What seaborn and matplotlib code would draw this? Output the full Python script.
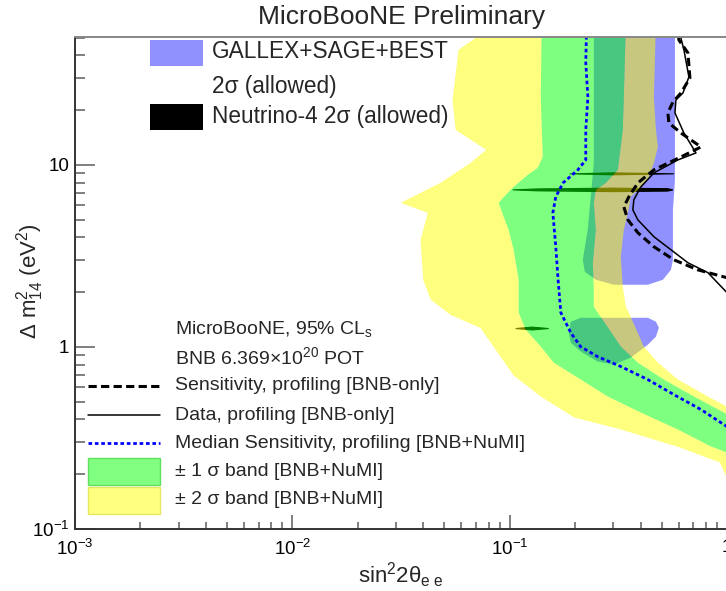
import numpy as np
import pandas as pd
import matplotlib
matplotlib.use("Agg")
import matplotlib.pyplot as plt
import seaborn as sns
from matplotlib.patches import Rectangle
from matplotlib.lines import Line2D
from matplotlib.ticker import LogLocator, FixedLocator, FixedFormatter, NullFormatter

# ---------------- data (sin^2 2theta_ee , Delta m^2_14 [eV^2]) ----------------
# median sensitivity, profiling [BNB+NuMI]
median_dm2 = [60.0, 36.3, 23.6, 15.6, 10.65, 9.39, 7.96, 6.68, 5.45, 3.55, 2.34, 1.542,
              1.198, 1.004, 0.885, 0.780, 0.662, 0.547, 0.453, 0.365, 0.2985]
median_sin2 = [0.226, 0.224, 0.229, 0.224, 0.224, 0.206, 0.176, 0.163, 0.158, 0.163, 0.167, 0.172,
               0.191, 0.212, 0.254, 0.325, 0.432, 0.570, 0.759, 1.0, 1.435]

# +-1 sigma band edges
g_left_dm2 = [60.0, 23.6, 11.06, 9.63, 8.81, 7.57, 6.84, 6.19, 5.19, 4.40, 3.42, 2.34, 1.542,
              1.245, 1.004, 0.820, 0.662, 0.534, 0.436, 0.352, 0.2838, 0.2632, 0.2124]
g_left_sin2 = [0.1405, 0.139, 0.142, 0.1346, 0.121, 0.1043, 0.0959, 0.089, 0.0938, 0.0989, 0.1043,
               0.110, 0.110, 0.1185, 0.139, 0.1595, 0.2124, 0.2829, 0.4015, 0.5946, 0.8438, 1.0, 1.595]
g_right_dm2 = [60.0, 23.6, 15.56, 9.39, 7.96, 7.29, 6.19, 4.40, 2.90, 2.06, 1.664, 1.542, 1.004,
               0.820, 0.662, 0.534, 0.436, 0.352]
g_right_sin2 = [0.3424, 0.3352, 0.3316, 0.3146, 0.2769, 0.249, 0.2438, 0.249, 0.2413, 0.2438, 0.2438,
                0.2544, 0.3247, 0.3889, 0.5125, 0.7046, 0.9688, 1.435]

# +-2 sigma band edges
y_left_dm2 = [60.0, 50.4, 42.8, 22.7, 15.56, 12.1, 10.25, 7.96, 6.19, 5.45, 3.88, 2.34, 1.82,
              1.50, 1.27, 0.70, 0.534, 0.41, 0.352, 0.282, 0.232, 0.190, 0.150]
y_left_sin2 = [0.075, 0.0705, 0.0582, 0.0546, 0.0564, 0.0780, 0.0661, 0.0480, 0.0315, 0.0420,
               0.0389, 0.0400, 0.0433, 0.0535, 0.0735, 0.104, 0.139, 0.198, 0.325, 0.598, 0.927,
               1.0, 1.6]
y_right_dm2 = [60.0, 23.6, 15.56, 12.55, 10.25, 8.27, 6.68, 5.45, 4.40, 3.13, 2.14, 1.664, 1.542,
               1.004, 0.820, 0.662, 0.534, 0.470, 0.399]
y_right_sin2 = [0.4709, 0.461, 0.4709, 0.481, 0.461, 0.4324, 0.361, 0.3499, 0.3352, 0.3247, 0.3316,
                0.3424, 0.3536, 0.4145, 0.481, 0.5946, 0.8173, 1.0, 1.435]

# observed (data) and BNB-only sensitivity contours
data_dm2 = [60.0, 49.7, 42.8, 30.4, 24.83, 22.73, 19.29, 14.97, 11.63, 10.65, 9.04, 7.57, 6.43,
            5.66, 4.99, 4.03, 3.42, 2.90, 2.557, 1.986, 1.602]
data_sin2 = [0.605, 0.6138, 0.6336, 0.6679, 0.6269, 0.5821, 0.576, 0.6336, 0.7197, 0.5946, 0.461,
             0.4015, 0.3727, 0.3688, 0.3889, 0.461, 0.5519, 0.661, 0.8173, 1.0, 1.435]
sens_dm2 = [60.0, 48.5, 41.2, 30.0, 24.83, 22.16, 19.29, 17.0, 14.97, 12.55, 11.06, 9.39, 7.96,
            6.68, 5.88, 4.99, 4.24, 3.55, 3.01, 2.65, 2.40, 2.06]
sens_sin2 = [0.59, 0.6008, 0.661, 0.675, 0.6138, 0.5639, 0.5346, 0.5403, 0.6138, 0.7592, 0.6138,
             0.461, 0.3889, 0.3536, 0.3352, 0.3499, 0.3889, 0.461, 0.5699, 0.7351, 1.0, 1.435]

# GALLEX+SAGE+BEST 2 sigma allowed (two islands)
gal1_sin2 = [0.2438, 0.2438, 0.2362, 0.2287, 0.217, 0.2216, 0.249, 0.3015, 0.4324, 0.5071,
             0.5519, 0.5639, 0.5639, 0.576, 0.576]
gal1_dm2 = [60.0, 10.25, 6.68, 4.40, 3.01, 2.59, 2.34, 2.196, 2.196, 2.34, 2.65, 3.01, 5.66,
            8.27, 60.0]
gal2_sin2 = [0.1871, 0.191, 0.2124, 0.4324, 0.4709, 0.4861, 0.4709, 0.4324, 0.361, 0.3015,
             0.2544, 0.2124, 0.191]
gal2_dm2 = [1.198, 1.376, 1.446, 1.446, 1.376, 1.276, 1.139, 1.029, 0.874, 0.80, 0.831, 0.943,
            1.056]

# Neutrino-4 2 sigma allowed (thin islands)
n4a_sin2 = [0.189, 0.30, 0.570, 0.30]
n4a_dm2 = [8.93, 9.04, 8.93, 8.82]
n4b_sin2 = [0.1032, 0.135, 0.30, 0.534, 0.564, 0.534, 0.30, 0.135]
n4b_dm2 = [7.29, 7.38, 7.45, 7.40, 7.29, 7.18, 7.13, 7.20]
n4c_sin2 = [0.1066, 0.127, 0.1513, 0.127]
n4c_dm2 = [1.262, 1.285, 1.262, 1.240]

# ---------------- styling ----------------
sns.set_theme(style="ticks")
plt.rcParams['font.family'] = ['Liberation Sans', 'DejaVu Sans']
plt.rcParams['mathtext.fontset'] = 'custom'
plt.rcParams['mathtext.rm'] = 'Liberation Sans'
plt.rcParams['mathtext.it'] = 'Liberation Sans:italic'
plt.rcParams['mathtext.bf'] = 'Liberation Sans:bold'

W, H = 726, 591
fig = plt.figure(figsize=(W / 100, H / 100), dpi=100)
fig.patch.set_facecolor('white')
ax = fig.add_axes([75 / W, 1 - 529 / H, (727 - 75) / W, (529 - 37) / H])
ax.set_facecolor('white')
ax.set_xscale('log')
ax.set_yscale('log')
ax.set_xlim(1e-3, 1.0)
ax.set_ylim(0.1, 50.4)

BLUE_FILL = '#9090ff'
# GALLEX regions
ax.fill(gal1_sin2, gal1_dm2, color=BLUE_FILL, lw=0, zorder=1)
ax.fill(gal2_sin2, gal2_dm2, color=BLUE_FILL, lw=0, zorder=1)
# Neutrino-4 islands
for xs, ys in [(n4a_sin2, n4a_dm2), (n4b_sin2, n4b_dm2), (n4c_sin2, n4c_dm2)]:
    ax.fill(xs, ys, color='black', lw=0.8, ec='black', zorder=2)

# +-2 sigma band (ring outside +-1 sigma)
ax.fill(np.r_[y_left_sin2, g_left_sin2[::-1]], np.r_[y_left_dm2, g_left_dm2[::-1]],
        color=(1, 1, 0), alpha=0.5, lw=0, zorder=3)
ax.fill(np.r_[g_right_sin2, y_right_sin2[::-1]], np.r_[g_right_dm2, y_right_dm2[::-1]],
        color=(1, 1, 0), alpha=0.5, lw=0, zorder=3)
# +-1 sigma band
ax.fill(np.r_[g_left_sin2, g_right_sin2[::-1]], np.r_[g_left_dm2, g_right_dm2[::-1]],
        color=(0, 1, 0), alpha=0.5, lw=0, zorder=3)

SENS_DASH = [2.7, 1.4]
MED_DASH = [1.3, 1.0]
med = pd.DataFrame({'sin2': median_sin2, 'dm2': median_dm2})
dat = pd.DataFrame({'sin2': data_sin2, 'dm2': data_dm2})
sen = pd.DataFrame({'sin2': sens_sin2, 'dm2': sens_dm2})
sns.lineplot(data=sen, x='sin2', y='dm2', sort=False, estimator=None, ax=ax, color='black',
             lw=2.2, zorder=5).lines[-1].set_dashes(SENS_DASH)
sns.lineplot(data=dat, x='sin2', y='dm2', sort=False, estimator=None, ax=ax, color='black',
             lw=1.1, zorder=5)
sns.lineplot(data=med, x='sin2', y='dm2', sort=False, estimator=None, ax=ax, color='#0000ff',
             lw=2.0, zorder=6).lines[-1].set_dashes(MED_DASH)

ax.set_xlabel('')
ax.set_ylabel('')

# ticks
ax.xaxis.set_major_locator(FixedLocator([1e-3, 1e-2, 1e-1, 1.0]))
ax.xaxis.set_major_formatter(FixedFormatter(['$10^{-3}$', '$10^{-2}$', '$10^{-1}$', '1']))
ax.xaxis.set_minor_locator(LogLocator(base=10, subs=np.arange(2, 10), numticks=20))
ax.xaxis.set_minor_formatter(NullFormatter())
ax.yaxis.set_major_locator(FixedLocator([0.1, 1.0, 10.0]))
ax.yaxis.set_major_formatter(FixedFormatter(['$10^{-1}$', '1', '10']))
ax.yaxis.set_minor_locator(LogLocator(base=10, subs=np.arange(2, 10), numticks=20))
ax.yaxis.set_minor_formatter(NullFormatter())
ax.tick_params(axis='both', which='both', direction='in', top=False, right=False,
               color='#6a6a6a', width=1.2, labelsize=13.5, labelcolor='black')
ax.tick_params(axis='y', which='major', length=14.4, pad=4)
ax.tick_params(axis='y', which='minor', length=7.2)
ax.tick_params(axis='x', which='major', length=10, pad=7)
ax.tick_params(axis='x', which='minor', length=4.7)
for s in ax.spines.values():
    s.set_color('#333333')
    s.set_linewidth(1.4)
    s.set_zorder(10)
ax.spines['top'].set_color('#888888')


def P(x, y):
    return (x / W, 1 - y / H)


# title and axis titles
fig.text(*P(402, 17), 'MicroBooNE Preliminary', ha='center', va='center', fontsize=19)
fig.text(*P(401, 575), r'sin$^{2}$2θ$_{\mathrm{e\ e}}$', ha='center', va='center', fontsize=16)
fig.text(*P(30, 281), r'$\Delta$ m$^{2}_{14}$ (eV$^{2}$)', ha='center', va='center',
         fontsize=16, rotation=90)

# legend 1 (top)
fig.patches.append(Rectangle(P(150, 66), 53 / W, 26 / H, transform=fig.transFigure,
                             facecolor=BLUE_FILL, edgecolor='none'))
fig.patches.append(Rectangle(P(150, 130), 53 / W, 26 / H, transform=fig.transFigure,
                             facecolor='black', edgecolor='none'))
fig.text(*P(212, 52), 'GALLEX+SAGE+BEST', ha='left', va='center', fontsize=16.3)
fig.text(*P(212, 87), '2σ (allowed)', ha='left', va='center', fontsize=16.3)
fig.text(*P(212, 117), 'Neutrino-4 2σ (allowed)', ha='left', va='center', fontsize=16.3)

# legend 2 (lower left)
fs2 = 14
fig.text(*P(175, 329), r'MicroBooNE, 95% CL$_{\mathrm{s}}$', ha='left', va='center', fontsize=fs2)
fig.text(*P(175, 357), r'BNB 6.369$\times$10$^{20}$ POT', ha='left', va='center', fontsize=fs2)
fig.lines.append(Line2D([88 / W, 160 / W], [1 - 386 / H] * 2, transform=fig.transFigure,
                        color='black', lw=2.2, dashes=SENS_DASH))
fig.lines.append(Line2D([88 / W, 160 / W], [1 - 415 / H] * 2, transform=fig.transFigure,
                        color='black', lw=1.1))
fig.lines.append(Line2D([88 / W, 160 / W], [1 - 443 / H] * 2, transform=fig.transFigure,
                        color='#0000ff', lw=2.0, dashes=MED_DASH))
fig.patches.append(Rectangle(P(88, 485), 72 / W, 27 / H, transform=fig.transFigure,
                             facecolor='#80ff80', edgecolor='#60e060', lw=1))
fig.patches.append(Rectangle(P(88, 514), 72 / W, 27 / H, transform=fig.transFigure,
                             facecolor='#ffff80', edgecolor='#e8e860', lw=1))
fig.text(*P(175, 386), 'Sensitivity, profiling [BNB-only]', ha='left', va='center', fontsize=fs2)
fig.text(*P(175, 415), 'Data, profiling [BNB-only]', ha='left', va='center', fontsize=fs2)
fig.text(*P(175, 443), 'Median Sensitivity, profiling [BNB+NuMI]', ha='left', va='center',
         fontsize=fs2)
fig.text(*P(175, 472), '± 1 σ band [BNB+NuMI]', ha='left', va='center', fontsize=fs2)
fig.text(*P(175, 500), '± 2 σ band [BNB+NuMI]', ha='left', va='center', fontsize=fs2)

fig.savefig('out.png', dpi=100)
